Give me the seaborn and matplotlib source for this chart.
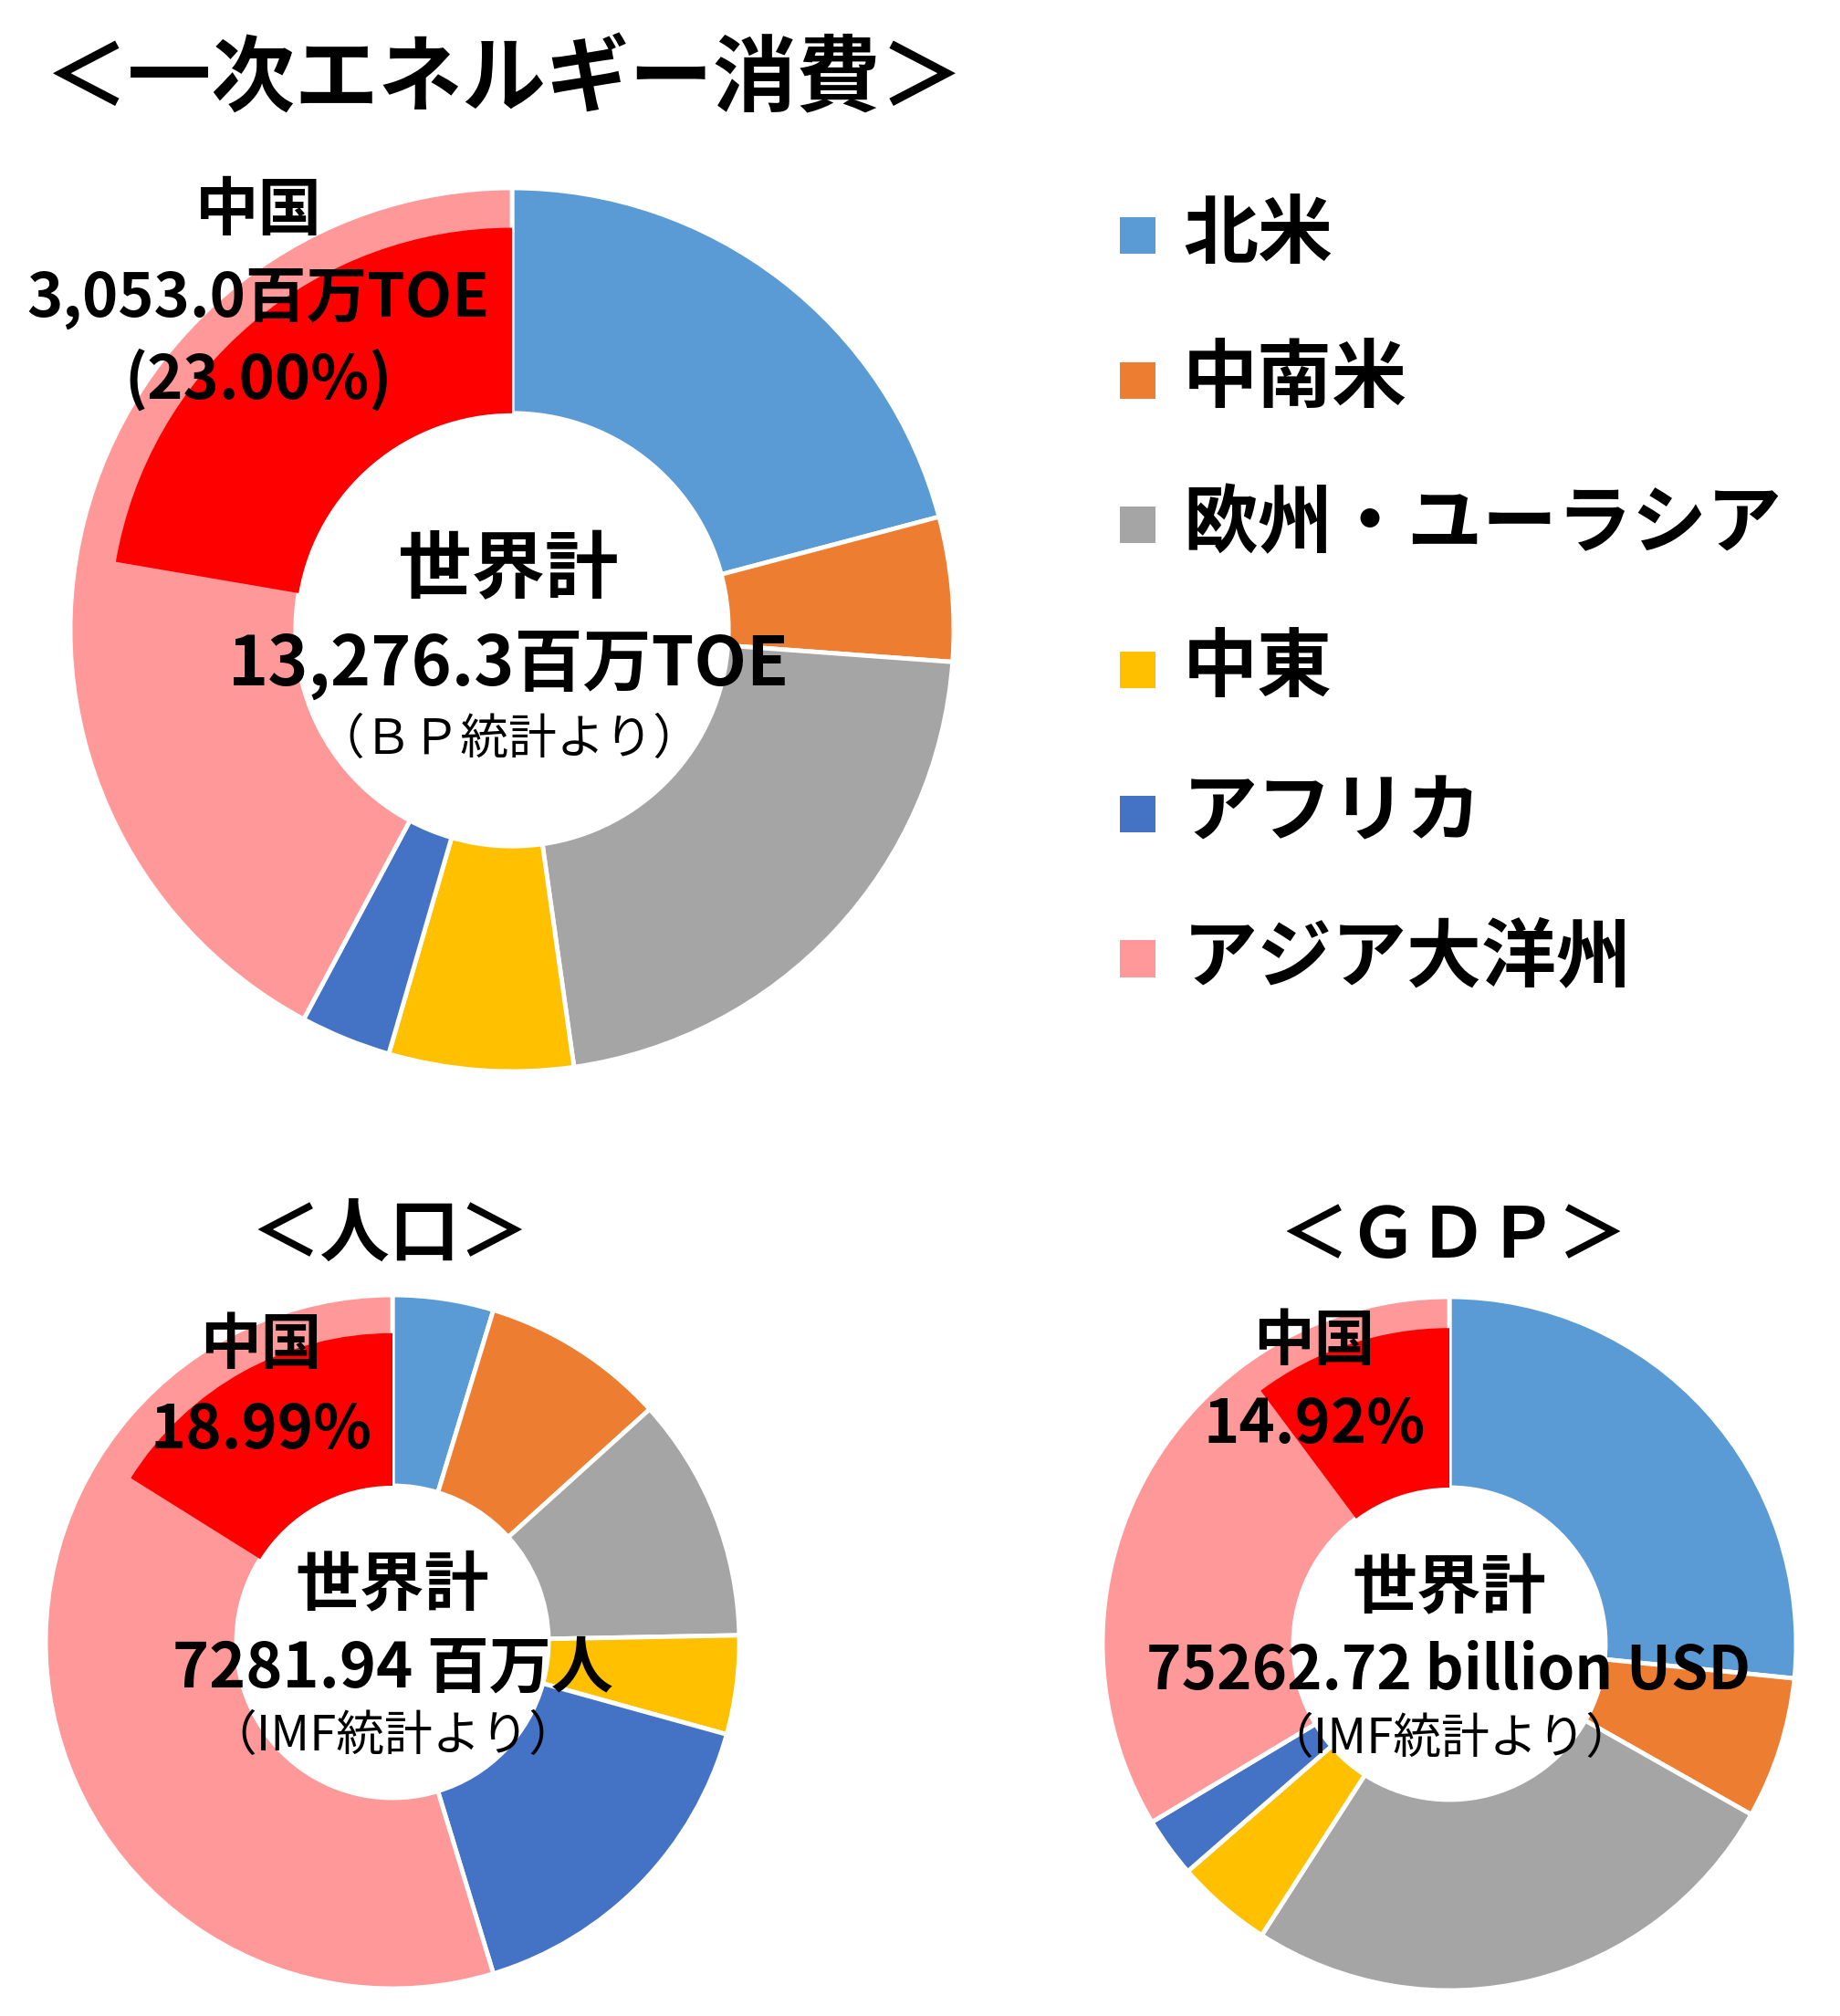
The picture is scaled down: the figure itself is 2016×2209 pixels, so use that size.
import matplotlib
matplotlib.use("Agg")
import matplotlib.pyplot as plt
import seaborn as sns
from matplotlib.patches import Rectangle

# regions in clockwise order from 12 o'clock
regions = ["北米", "中南米", "欧州・ユーラシア", "中東", "アフリカ", "アジア大洋州"]
region_colors = ["#5B9BD5", "#ED7D31", "#A5A5A5", "#FFC000", "#4472C4", "#FF9999"]
china_color = "#FF0000"

# primary energy consumption, million TOE (BP)
energy = [2772.8, 700.6, 2867.3, 895.1, 440.1, 5600.3]
# population share, % (IMF)
population = [4.7, 8.6, 11.4, 4.6, 16.0, 54.7]
# GDP share, % (IMF)
gdp = [26.6, 6.6, 25.9, 4.5, 2.8, 33.6]

# China wedge as drawn on each ring, % of the circle
china_drawn = [22.3, 16.1, 10.2]

titles = ["＜一次エネルギー消費＞", "＜人口＞", "＜ＧＤＰ＞"]
totals = ["13,276.3百万TOE", "7281.94 百万人", "75262.72 billion USD"]
sources = ["（ＢＰ統計より）", "（IMF統計より）", "（IMF統計より）"]
china_labels = [["中国", "3,053.0百万TOE", "(23.00%)"],
                ["中国", "18.99%"],
                ["中国", "14.92%"]]

sns.set_theme(style="white")
plt.rcParams["font.family"] = ["Noto Sans CJK JP", "DejaVu Sans"]
palette = sns.color_palette(region_colors)

W, H = 2016, 2209
fig = plt.figure(figsize=(W / 100, H / 100), dpi=100, facecolor="white")


def fx(x):
    return x / W


def fy(y):
    return 1 - y / H


def put(x, y, s, size, weight="bold"):
    fig.text(fx(x), fy(y), s, fontsize=size, fontweight=weight,
             ha="center", va="center", color="black")


def donut(cx, cy, r, values, hole, china, china_r):
    ax = fig.add_axes([fx(cx - r), fy(cy + r), 2 * r / W, 2 * r / H])
    ax.pie(values, colors=palette, startangle=90, counterclock=False, radius=1,
           wedgeprops=dict(width=1 - hole, edgecolor="white", linewidth=3.5))
    ax.pie([china, 100 - china], colors=[china_color, "none"], startangle=90,
           counterclock=True, radius=china_r,
           wedgeprops=dict(width=china_r - hole, linewidth=0))
    ax.set_xlim(-1, 1)
    ax.set_ylim(-1, 1)
    ax.set_aspect("equal")
    ax.axis("off")


# primary energy
donut(561, 690, 484, energy, 0.49, china_drawn[0], 0.91)
put(553, 88, titles[0], 66)
put(557, 626, "世界計", 58)
put(557, 729, totals[0], 54)
put(557, 810, sources[0], 38, "normal")
for txt, y, s in zip(china_labels[0], [232, 327, 416], [50, 48, 48]):
    put(283, y, txt, s)

# population
donut(430, 1799, 380, population, 0.45, china_drawn[1], 0.89)
put(427, 1353, titles[1], 55)
put(430, 1737, "世界計", 51)
put(430, 1829, totals[1], 49)
put(430, 1902, sources[1], 38, "normal")
for txt, y in zip(china_labels[1], [1475, 1568]):
    put(286, y, txt, 48)

# GDP
donut(1588, 1801, 380, gdp, 0.45, china_drawn[2], 0.91)
put(1592, 1355, titles[2], 55)
put(1588, 1740, "世界計", 51)
put(1587, 1832, totals[2], 47)
put(1588, 1905, sources[2], 38, "normal")
for txt, y in zip(china_labels[2], [1470, 1561]):
    put(1440, y, txt, 48)

# legend
for i, (name, col) in enumerate(zip(regions, palette)):
    y = 258 + i * 158.5
    fig.add_artist(Rectangle((fx(1227), fy(y + 20)), 39 / W, 40 / H,
                             transform=fig.transFigure, facecolor=col,
                             edgecolor="none"))
    fig.text(fx(1296), fy(y), name, fontsize=59, fontweight="bold",
             ha="left", va="center", color="black")

fig.savefig("out.png", dpi=100, facecolor="white")
